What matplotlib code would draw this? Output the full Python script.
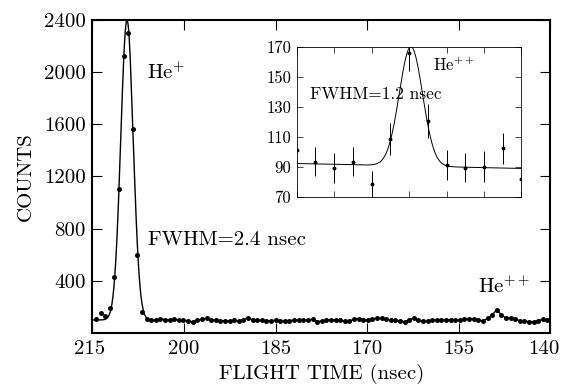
import numpy as np
import matplotlib
matplotlib.use("Agg")
import matplotlib.pyplot as plt
from matplotlib.transforms import ScaledTranslation

plt.rcParams['font.family'] = ['cmr10', 'DejaVu Serif']
plt.rcParams['mathtext.fontset'] = 'cm'
plt.rcParams['axes.formatter.use_mathtext'] = True

# ---------------- data (main spectrum) ----------------
flight_time = [214.43, 213.68, 212.92, 212.17, 211.41, 210.66, 209.90, 209.15, 208.40, 207.64,
               206.89, 206.13, 205.38, 204.62, 203.87, 203.11, 202.36, 201.61, 200.85, 200.10,
               199.34, 198.59, 197.83, 197.08, 196.32, 195.57, 194.82, 194.06, 193.31, 192.55,
               191.80, 191.04, 190.29, 189.53, 188.78, 188.03, 187.27, 186.52, 185.76, 185.01,
               184.25, 183.50, 182.75, 181.99, 181.24, 180.48, 179.73, 178.97, 178.22, 177.46,
               176.71, 175.96, 175.20, 174.45, 173.69, 172.94, 172.18, 171.43, 170.68, 169.92,
               169.17, 168.41, 167.66, 166.90, 166.15, 165.39, 164.64, 163.89, 163.13, 162.38,
               161.62, 160.87, 160.11, 159.36, 158.61, 157.85, 157.10, 156.34, 155.59, 154.83,
               154.08, 153.32, 152.57, 151.82, 151.06, 150.31, 149.55, 148.80, 148.04, 147.29,
               146.54, 145.78, 145.03, 144.27, 143.52, 142.76, 142.01, 141.25, 140.50]
counts = [105, 151, 130, 189, 431, 1107, 2126, 2304, 1566, 597,
          163, 108, 98, 100, 106, 103, 99, 105, 101, 97,
          94, 84, 97, 104, 113, 102, 98, 95, 91, 93,
          96, 92, 100, 118, 100, 96, 98, 93, 95, 97,
          94, 92, 95, 99, 102, 103, 100, 104, 88, 92,
          99, 103, 101, 97, 91, 93, 104, 110, 103, 101,
          108, 114, 112, 105, 99, 96, 92, 86, 101, 115,
          98, 89, 90, 98, 101, 100, 99, 103, 100, 97,
          104, 108, 110, 102, 92, 112, 138, 178, 140, 113,
          116, 109, 94, 90, 88, 86, 95, 104, 102]

# Gaussian fit of the He+ peak (FWHM = 2.4 ns)
fit_center = 209.35
fit_fwhm = 2.4
fit_amp = 2300
fit_base = 100
fit_range = (206.13, 215.0)

main_xticks = [215, 200, 185, 170, 155, 140]
main_yticks = [400, 800, 1200, 1600, 2000, 2400]

# ---------------- data (inset: He++ peak) ----------------
inset_x = [0.0, 0.5, 1.0, 1.5, 2.0, 2.5, 3.0, 3.5, 4.0, 4.5, 5.0, 5.5, 6.0]
inset_y = [101, 93.3, 89.3, 93.3, 78.3, 108.5, 166, 120.3, 90.9, 89.5, 90.2, 102.3, 81.6]
inset_err = [0, 9.7, 9.8, 9.7, 8.7, 10.5, 12, 11.3, 10, 9.8, 10, 10.2, 0]
inset_fit_center = 3.05
inset_fit_sigma = 0.31
inset_fit_amp = 79.5
inset_fit_base0 = 92.2
inset_fit_slope = -0.55
inset_yticks = [70, 90, 110, 130, 150, 170]

# ---------------- figure ----------------
fig = plt.figure(figsize=(5.65, 3.89), dpi=100)
ax = fig.add_axes([0.1637, 0.1440, 0.8106, 0.8046])

sig = fit_fwhm / (2 * np.sqrt(2 * np.log(2)))
xf = np.linspace(fit_range[0], fit_range[1], 400)
yf = fit_base + fit_amp * np.exp(-(xf - fit_center) ** 2 / (2 * sig ** 2))
ax.plot(xf, yf, color='black', lw=1.0)

ft = np.array(flight_time)
ct = np.array(counts)
tail = ft <= fit_range[0]
ax.plot(ft[tail], ct[tail], color='black', lw=1.0)
ax.plot(ft, ct, 'o', color='black', ms=3.6, mew=0)

ax.set_xlim(215, 140)
ax.set_ylim(0, 2400)
ax.set_xticks(main_xticks)
ax.set_xticklabels([str(t) for t in main_xticks])
ax.set_yticks(main_yticks)
ax.set_yticklabels([str(t) for t in main_yticks])
ax.tick_params(direction='in', length=7, width=0.8, labelsize=15,
               top=True, right=True)
ax.tick_params(axis='x', pad=5)
ax.tick_params(axis='y', pad=5)
for s in ax.spines.values():
    s.set_linewidth(1.5)
xl = ax.get_xticklabels()
xl[0].set_transform(xl[0].get_transform() + ScaledTranslation(-3 / 100, 0, fig.dpi_scale_trans))
xl[-1].set_transform(xl[-1].get_transform() + ScaledTranslation(-7 / 100, 0, fig.dpi_scale_trans))
ax.set_xlabel('FLIGHT TIME (nsec)', fontsize=15, labelpad=4)
ax.set_ylabel('COUNTS', fontsize=15, labelpad=6)

ax.text(206.1, 2000, r'He$^{+}$', fontsize=15, va='center', ha='left')
ax.text(205.9, 711, 'FWHM=2.4 nsec', fontsize=15, va='center', ha='left')
ax.text(151.8, 360, r'He$^{++}$', fontsize=15, va='center', ha='left')

# ---------------- inset ----------------
ins = fig.add_axes([0.525, 0.494, 0.398, 0.386])
xi = np.linspace(0, 6, 400)
yi = (inset_fit_base0 + inset_fit_slope * xi
      + inset_fit_amp * np.exp(-(xi - inset_fit_center) ** 2 / (2 * inset_fit_sigma ** 2)))
ins.plot(xi, yi, color='black', lw=0.7)
ins.errorbar(inset_x, inset_y, yerr=inset_err, fmt='o', color='black', ms=1.8,
             elinewidth=0.7, capsize=0)
ins.set_xlim(0, 6)
ins.set_ylim(70, 170)
ins.set_xticks([0, 1, 2, 3, 4, 5, 6])
ins.set_xticklabels([])
ins.set_yticks(inset_yticks)
ins.set_yticklabels([str(t) for t in inset_yticks])
ins.tick_params(direction='in', length=4, width=0.5, labelsize=12,
                top=True, right=True, pad=4)
for s in ins.spines.values():
    s.set_linewidth(0.6)
ins.text(3.63, 157.8, r'He$^{++}$', fontsize=12, va='center', ha='left')
ins.text(0.35, 138.5, 'FWHM=1.2 nsec', fontsize=12.5, va='center', ha='left')

fig.savefig('out.png', dpi=100)
